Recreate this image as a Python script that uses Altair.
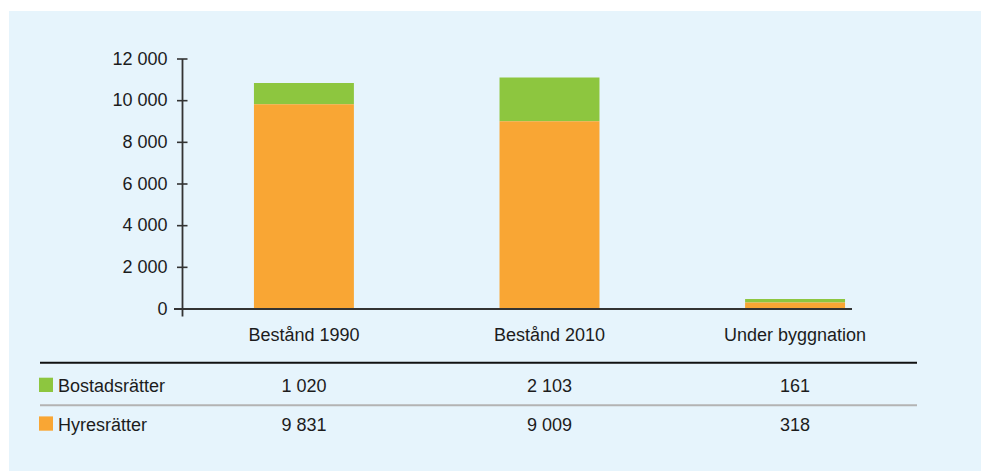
import altair as alt
import pandas as pd

# Housing stock by tenure (number of apartments)
categories = ["Bestånd 1990", "Bestånd 2010", "Under byggnation"]
series = ["Bostadsrätter", "Hyresrätter"]
bostadsratter = [1020, 2103, 161]
hyresratter = [9831, 9009, 318]
y_ticks = [0, 2000, 4000, 6000, 8000, 10000, 12000]

colors = {"Bostadsrätter": "#8DC63F", "Hyresrätter": "#F9A634"}
ink = "#1c1c1c"
axis_ink = "#333333"
font = "Liberation Sans"
fs = 18

W, H = 735, 250

rows = []
for i, c in enumerate(categories):
    rows.append({"kategori": c, "typ": "Bostadsrätter", "antal": bostadsratter[i], "ordning": 1})
    rows.append({"kategori": c, "typ": "Hyresrätter", "antal": hyresratter[i], "ordning": 0})
df = pd.DataFrame(rows)
ticks_df = pd.DataFrame({"v": y_ticks})
cat_df = pd.DataFrame({"kategori": categories})
one = pd.DataFrame({"k": [0]})

x_scale = alt.Scale(domain=categories, paddingInner=0.593, paddingOuter=0.293)
y_scale = alt.Scale(domain=[0, 12000], nice=False)
fmt = "replace(format(datum.value, ','), ',', ' ')"

# panel background
bg = alt.Chart(one).mark_rect(color="#E6F4FC").encode(
    x=alt.value(-173), x2=alt.value(799), y=alt.value(-48), y2=alt.value(412)
)

bars = alt.Chart(df).mark_bar().encode(
    x=alt.X("kategori:N", scale=x_scale, axis=None, sort=categories),
    y=alt.Y(
        "antal:Q",
        stack="zero",
        scale=y_scale,
        axis=alt.Axis(
            values=y_ticks, title=None, domain=False, ticks=False, tickSize=0,
            grid=False, labelPadding=15, labelFont=font, labelFontSize=fs,
            labelColor=ink, labelExpr=fmt, zindex=1,
        ),
    ),
    color=alt.Color("typ:N", scale=alt.Scale(domain=series, range=[colors[s] for s in series]), legend=None),
    order=alt.Order("ordning:Q", sort="ascending"),
)

# axis lines and crossing ticks
tick_marks = alt.Chart(ticks_df).transform_filter("datum.v > 0").mark_rule(
    color=axis_ink, strokeWidth=1.6
).encode(x=alt.value(-5), x2=alt.value(5.5), y=alt.Y("v:Q", scale=y_scale))
zero_line = alt.Chart(one).mark_rule(color=axis_ink, strokeWidth=1.8).encode(
    x=alt.value(-8), x2=alt.value(670), y=alt.datum(0, scale=y_scale)
)
y_line = alt.Chart(one).mark_rule(color=axis_ink, strokeWidth=1.8).encode(
    x=alt.value(0.5), y=alt.datum(12000, scale=y_scale), y2=alt.value(257.5)
)

cat_labels = alt.Chart(cat_df).mark_text(
    font=font, fontSize=fs, color=ink, baseline="alphabetic", align="center"
).encode(x=alt.X("kategori:N", scale=x_scale, axis=None), y=alt.value(281.5), text="kategori:N")

# table below the chart
black_rule = alt.Chart(one).mark_rule(color="#111111", strokeWidth=2).encode(
    x=alt.value(-142), x2=alt.value(735), y=alt.value(303.7)
)
gray_rule = alt.Chart(one).mark_rule(color="#B3B3B3", strokeWidth=2).encode(
    x=alt.value(-142), x2=alt.value(735), y=alt.value(346.3)
)

row_base = {"Bostadsrätter": 333, "Hyresrätter": 371.7}
table_layers = []
for s in series:
    b = row_base[s]
    sub = df[df["typ"] == s]
    table_layers.append(
        alt.Chart(one).mark_rect(color=colors[s]).encode(
            x=alt.value(-143), x2=alt.value(-129), y=alt.value(b - 14.3), y2=alt.value(b)
        )
    )
    table_layers.append(
        alt.Chart(pd.DataFrame({"typ": [s]})).mark_text(
            font=font, fontSize=fs, color=ink, baseline="alphabetic", align="left"
        ).encode(x=alt.value(-124), y=alt.value(b), text="typ:N")
    )
    table_layers.append(
        alt.Chart(sub).transform_calculate(
            etikett="replace(format(datum.antal, ','), ',', ' ')"
        ).mark_text(
            font=font, fontSize=fs, color=ink, baseline="alphabetic", align="center"
        ).encode(x=alt.X("kategori:N", scale=x_scale, axis=None), y=alt.value(b), text="etikett:N")
    )

chart = alt.layer(
    bg, bars, tick_marks, zero_line, y_line, cat_labels, black_rule, gray_rule, *table_layers
).properties(
    width=W, height=H,
    autosize=alt.AutoSizeParams(type="none"),
    padding={"left": 182, "top": 59, "right": 64, "bottom": 162},
    background="white",
).configure_view(stroke=None)

chart.save("out.html", embed_options={"renderer": "svg", "actions": False})
